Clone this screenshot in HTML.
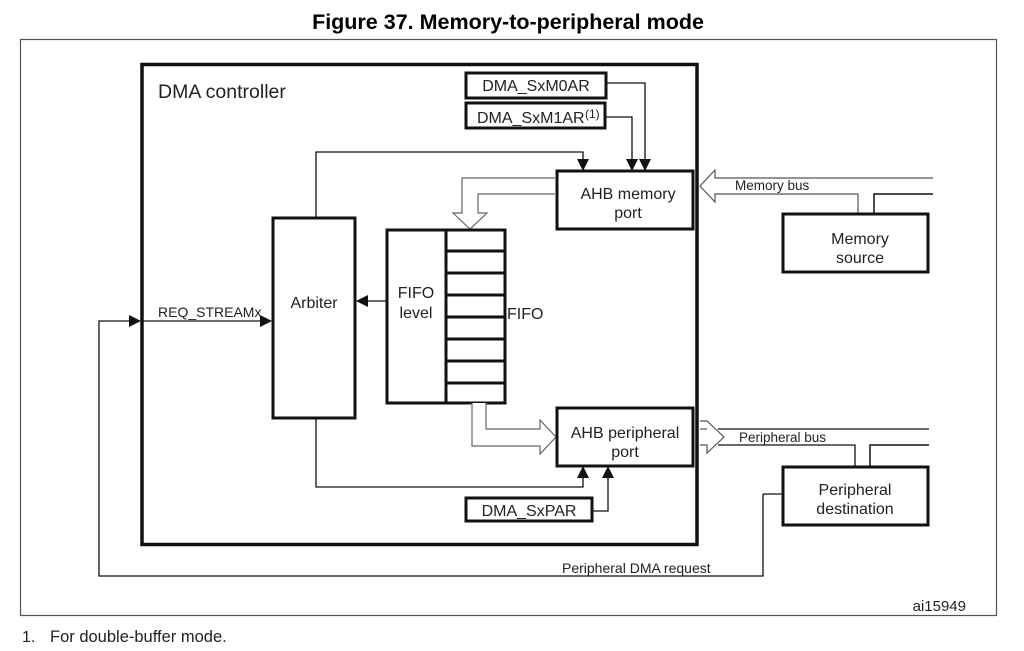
<!DOCTYPE html>
<html><head><meta charset="utf-8"><style>
html,body{margin:0;padding:0;background:#fff;}
svg{display:block;}
text{font-family:"Liberation Sans",Arial,sans-serif;fill:#222;}
</style></head><body>
<svg width="1024" height="651" viewBox="0 0 1024 651" xmlns="http://www.w3.org/2000/svg">
<defs>
<marker id="b" markerWidth="12" markerHeight="12" refX="11" refY="6" orient="auto" markerUnits="userSpaceOnUse"><path d="M0,0 L12,6 L0,12 z" fill="#111"/></marker>
</defs>
<text x="508" y="29" text-anchor="middle" font-size="21.5" font-weight="bold" style="fill:#000">Figure 37. Memory-to-peripheral mode</text>
<rect x="20.5" y="39.5" width="976" height="576" fill="none" stroke="#555" stroke-width="1.2"/>
<rect x="142" y="64.5" width="555" height="480" fill="none" stroke="#111" stroke-width="3.5"/>
<text x="158" y="98" font-size="19.5">DMA controller</text>

<rect x="466" y="73" width="140" height="25" fill="none" stroke="#111" stroke-width="3"/>
<text x="536" y="91" text-anchor="middle" font-size="16">DMA_SxM0AR</text>
<rect x="466" y="103" width="139" height="25" fill="none" stroke="#111" stroke-width="3"/>
<text x="477" y="123" font-size="16">DMA_SxM1AR</text><text x="585" y="118" font-size="12">(1)</text>
<polyline points="606,83 645,83 645,170" fill="none" stroke="#111" stroke-width="1.3" marker-end="url(#b)"/>
<polyline points="605,117 632,117 632,170" fill="none" stroke="#111" stroke-width="1.3" marker-end="url(#b)"/>
<polyline points="316,217 316,152 583,152 583,170" fill="none" stroke="#111" stroke-width="1.3" marker-end="url(#b)"/>

<rect x="557" y="171" width="136" height="58" fill="none" stroke="#111" stroke-width="3"/>
<text x="628" y="199" text-anchor="middle" font-size="16">AHB memory</text>
<text x="628" y="218" text-anchor="middle" font-size="16">port</text>

<path d="M555,178 L462,178 L462,213 L453,213 L470,229 L487,213 L478,213 L478,194 L555,194" fill="#fff" stroke="#666" stroke-width="1.2"/>

<rect x="273" y="218" width="82" height="200" fill="none" stroke="#111" stroke-width="3"/>
<text x="314" y="308" text-anchor="middle" font-size="16">Arbiter</text>

<rect x="387" y="230" width="118" height="173" fill="none" stroke="#111" stroke-width="3"/>
<line x1="446" y1="230" x2="446" y2="403" stroke="#111" stroke-width="3"/>
<g stroke="#111" stroke-width="3">
<line x1="446" y1="251" x2="505" y2="251"/><line x1="446" y1="273" x2="505" y2="273"/>
<line x1="446" y1="295" x2="505" y2="295"/><line x1="446" y1="317" x2="505" y2="317"/>
<line x1="446" y1="339" x2="505" y2="339"/><line x1="446" y1="361" x2="505" y2="361"/>
<line x1="446" y1="383" x2="505" y2="383"/>
</g>
<text x="416" y="298" text-anchor="middle" font-size="16">FIFO</text>
<text x="416" y="318" text-anchor="middle" font-size="16">level</text>
<text x="507" y="319" font-size="16">FIFO</text>
<line x1="387" y1="301" x2="357" y2="301" stroke="#111" stroke-width="1.3" marker-end="url(#b)"/>

<line x1="142" y1="321" x2="271" y2="321" stroke="#111" stroke-width="1.3" marker-end="url(#b)"/>
<text x="158" y="317" font-size="14">REQ_STREAMx</text>
<polyline points="763,494 763,576 99,576 99,321 140,321" fill="none" stroke="#111" stroke-width="1.3" marker-end="url(#b)"/>
<text x="562" y="573" font-size="14">Peripheral DMA request</text>

<path d="M472,403 L472,446 L540,446 L540,454 L556,437 L540,420 L540,429 L486,429 L486,403" fill="#fff" stroke="#666" stroke-width="1.2"/>

<rect x="557" y="408" width="136" height="58" fill="none" stroke="#111" stroke-width="3"/>
<text x="625" y="438" text-anchor="middle" font-size="16">AHB peripheral</text>
<text x="625" y="457" text-anchor="middle" font-size="16">port</text>
<polyline points="316,419 316,487 583,487 583,467" fill="none" stroke="#111" stroke-width="1.3" marker-end="url(#b)"/>
<rect x="466" y="498" width="126" height="23" fill="none" stroke="#111" stroke-width="3"/>
<text x="529" y="516" text-anchor="middle" font-size="16">DMA_SxPAR</text>
<polyline points="592,511 608,511 608,467" fill="none" stroke="#111" stroke-width="1.3" marker-end="url(#b)"/>

<path d="M933,178 L715,178 L715,170 L700,186 L715,202 L715,194 L858,194 L858,213" fill="none" stroke="#555" stroke-width="1.2"/>
<polyline points="874,213 874,194 933,194" fill="none" stroke="#111" stroke-width="1.5"/>
<text x="735" y="190" font-size="13.5">Memory bus</text>
<rect x="783" y="214" width="145" height="58" fill="none" stroke="#111" stroke-width="3"/>
<text x="860" y="244" text-anchor="middle" font-size="16">Memory</text>
<text x="860" y="263" text-anchor="middle" font-size="16">source</text>

<path d="M700,421 L707,421 L724,437 L707,453 L707,445 L700,445" fill="#fff" stroke="#555" stroke-width="1.2"/>
<path d="M700,429 L707,429" stroke="#555" stroke-width="1.2"/>
<polyline points="718,429 929,429" fill="none" stroke="#111" stroke-width="1.3"/>
<polyline points="718,445 855,445 855,466" fill="none" stroke="#111" stroke-width="1.3"/>
<polyline points="870,466 870,445 929,445" fill="none" stroke="#111" stroke-width="1.5"/>
<text x="739" y="442" font-size="13.5">Peripheral bus</text>
<rect x="783" y="467" width="145" height="58" fill="none" stroke="#111" stroke-width="3"/>
<line x1="763" y1="494" x2="782" y2="494" stroke="#111" stroke-width="1.3"/>
<text x="855" y="495" text-anchor="middle" font-size="16">Peripheral</text>
<text x="855" y="514" text-anchor="middle" font-size="16">destination</text>

<text x="966" y="611" text-anchor="end" font-size="15">ai15949</text>
<text x="22" y="642" font-size="16">1.</text>
<text x="50" y="642" font-size="16.5">For double-buffer mode.</text>
</svg>
</body></html>
